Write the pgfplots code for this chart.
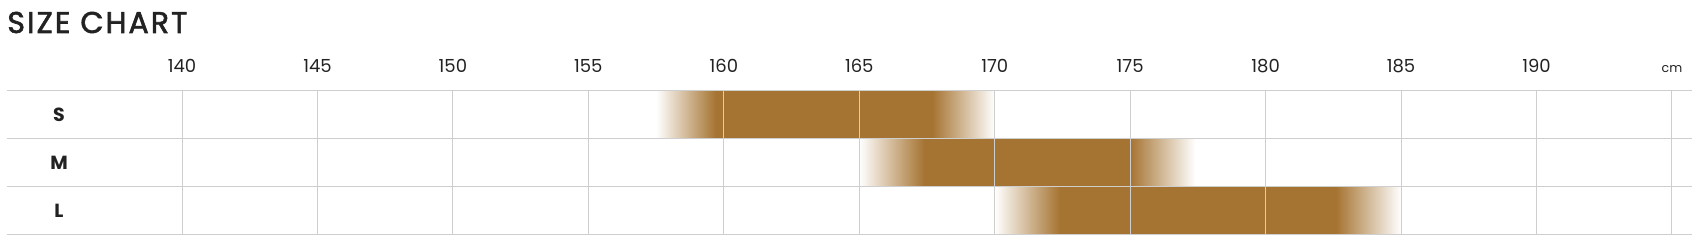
\documentclass[border=0pt]{standalone}
\usepackage{pgfplots}
\pgfplotsset{compat=1.18}
\usepackage{fontspec}
\setmainfont{Poppins}
\definecolor{barbrown}{RGB}{166,116,50}
\definecolor{gridgray}{RGB}{206,206,206}
\definecolor{txt}{RGB}{34,34,34}
\begin{document}
\begin{tikzpicture}
\useasboundingbox (0,0) rectangle (846pt,125pt);
\node[anchor=base west, inner sep=0pt, text=txt, font=\fontsize{15}{14}\selectfont\addfontfeature{LetterSpace=7,FakeBold=2}] at (3.5pt,108.5pt) {SIZE CHART};
\begin{axis}[
  at={(3.5pt,7.5pt)}, anchor=south west,
  scale only axis, width=842.5pt, height=72pt,
  xmin=133.54, xmax=195.74, ymin=0, ymax=3,
  axis line style={draw=none},
  tick style={draw=none},
  axis on top,
  xtick={140,145,...,195},
  xticklabels={140,145,150,155,160,165,170,175,180,185,190,{\fontsize{6.3}{6}\selectfont cm}},
  xticklabel pos=upper,
  xticklabel style={anchor=base, yshift=9pt, font=\fontsize{9}{9}\selectfont, text=txt},
  xmajorgrids,
  grid style={gridgray, line width=0.5pt},
  ytick={0.5,1.5,2.5},
  yticklabels={L,M,S},
  yticklabel style={anchor=center, xshift=26pt, font=\bfseries\fontsize{9.5}{9}\selectfont, text=txt},
  extra y ticks={0,1,2,3},
  extra y tick labels={},
  extra y tick style={ymajorgrids=true, grid style={gridgray, line width=0.5pt}},
  extra x ticks={145,190},
  extra x tick labels={},
  extra x tick style={grid style={gridgray, line width=0.9pt}},
  /pgf/number format/assume math mode=true,
]
% S row (2..3)
\addplot[draw=none, left color=white, right color=barbrown] coordinates {(157.5,2) (159.7,2) (159.7,3) (157.5,3)} -- cycle;
\addplot[draw=none, fill=barbrown] coordinates {(159.7,2) (167.7,2) (167.7,3) (159.7,3)} -- cycle;
\addplot[draw=none, left color=barbrown, right color=white] coordinates {(167.7,2) (170,2) (170,3) (167.7,3)} -- cycle;
% M row (1..2)
\addplot[draw=none, left color=white, right color=barbrown] coordinates {(165,1) (167.4,1) (167.4,2) (165,2)} -- cycle;
\addplot[draw=none, fill=barbrown] coordinates {(167.4,1) (175,1) (175,2) (167.4,2)} -- cycle;
\addplot[draw=none, left color=barbrown, right color=white] coordinates {(175,1) (177.4,1) (177.4,2) (175,2)} -- cycle;
% L row (0..1)
\addplot[draw=none, left color=white, right color=barbrown] coordinates {(170,0) (172.4,0) (172.4,1) (170,1)} -- cycle;
\addplot[draw=none, fill=barbrown] coordinates {(172.4,0) (182.6,0) (182.6,1) (172.4,1)} -- cycle;
\addplot[draw=none, left color=barbrown, right color=white] coordinates {(182.6,0) (185,0) (185,1) (182.6,1)} -- cycle;
\end{axis}
\end{tikzpicture}
\end{document}
